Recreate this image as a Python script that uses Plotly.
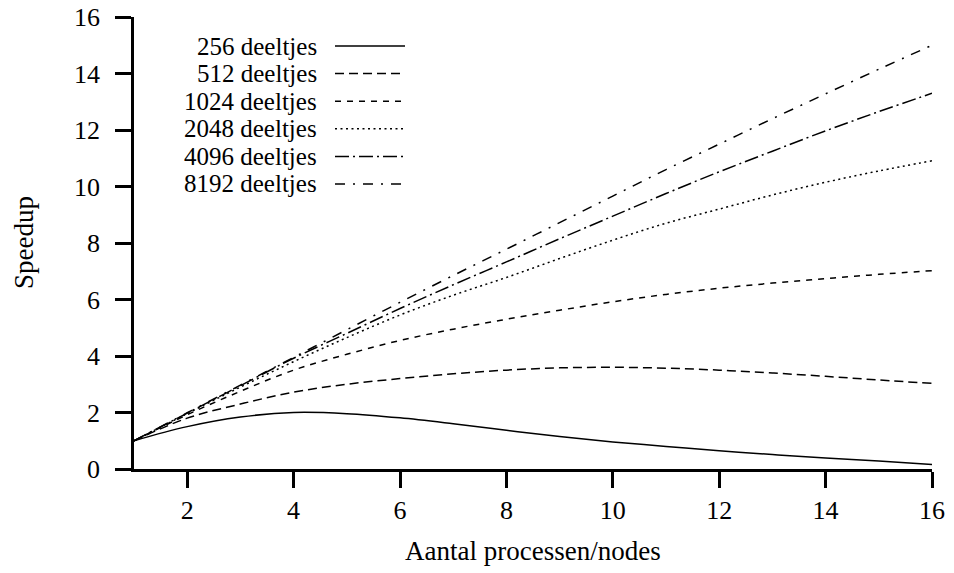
import plotly.graph_objects as go

# ---- data ----
processes = [1, 2, 3, 4, 5, 6, 7, 8, 9, 10, 11, 12, 13, 14, 15, 16]
series_names = ["256 deeltjes", "512 deeltjes", "1024 deeltjes",
                "2048 deeltjes", "4096 deeltjes", "8192 deeltjes"]
speedup_256 = [1.0, 1.5, 1.84, 2.0, 1.96, 1.81, 1.6, 1.37, 1.15, 0.96, 0.8, 0.65, 0.51, 0.39, 0.28, 0.16]
speedup_512 = [1.0, 1.8, 2.3, 2.72, 3.0, 3.2, 3.37, 3.5, 3.58, 3.6, 3.57, 3.5, 3.4, 3.28, 3.15, 3.03]
speedup_1024 = [1.0, 1.92, 2.75, 3.5, 4.06, 4.55, 4.95, 5.3, 5.62, 5.92, 6.18, 6.4, 6.58, 6.74, 6.89, 7.02]
speedup_2048 = [1.0, 1.96, 2.9, 3.8, 4.65, 5.45, 6.15, 6.78, 7.45, 8.1, 8.7, 9.2, 9.7, 10.15, 10.55, 10.91]
speedup_4096 = [1.0, 1.98, 2.95, 3.92, 4.8, 5.68, 6.52, 7.33, 8.15, 8.95, 9.75, 10.52, 11.25, 11.97, 12.65, 13.3]
speedup_8192 = [1.0, 1.99, 2.97, 3.95, 4.93, 5.9, 6.85, 7.78, 8.72, 9.66, 10.6, 11.5, 12.4, 13.28, 14.15, 15.0]
all_series = [speedup_256, speedup_512, speedup_1024, speedup_2048, speedup_4096, speedup_8192]

x_ticks = [2, 4, 6, 8, 10, 12, 14, 16]
y_ticks = [0, 2, 4, 6, 8, 10, 12, 14, 16]

# ---- styling ----
FONT = "Liberation Serif"
FS = 27      # axis titles
LFS = 25     # key text
TFS = 26     # tick labels
dashes = ["solid", "9px,5px", "6px,6px", "2px,3.5px", "14px,4px,2px,4px", "10px,8px,2px,8px"]

W, H = 954, 573
L, R, T, B = 134, 22, 17, 104
pw, ph = W - L - R, H - T - B

def px2paper_x(px):
    return (px - L) / pw

def px2paper_y(py):
    return (H - B - py) / ph

fig = go.Figure()
for name, ys, d in zip(series_names, all_series, dashes):
    fig.add_trace(go.Scatter(
        x=processes, y=ys, mode="lines", name=name,
        line=dict(color="black", width=1.5, dash=d, shape="spline", smoothing=1.0),
        showlegend=False,
    ))

# custom gnuplot-style key: right-aligned text, sample line to the right
row_y = [46, 73.6, 101.2, 128.8, 156.4, 184]
for name, d, ry in zip(series_names, dashes, row_y):
    fig.add_annotation(
        x=px2paper_x(319), y=px2paper_y(ry), xref="paper", yref="paper",
        text=name, showarrow=False, xanchor="right", yanchor="middle",
        font=dict(family=FONT, size=LFS, color="black"),
    )
    fig.add_shape(
        type="line", xref="paper", yref="paper",
        x0=px2paper_x(335), x1=px2paper_x(405),
        y0=px2paper_y(ry), y1=px2paper_y(ry),
        line=dict(color="black", width=1.5, dash=d),
    )

# axis titles
fig.add_annotation(
    x=px2paper_x(533), y=px2paper_y(551), xref="paper", yref="paper",
    text="Aantal processen/nodes", showarrow=False,
    xanchor="center", yanchor="middle",
    font=dict(family=FONT, size=FS, color="black"),
)
fig.add_annotation(
    x=px2paper_x(24), y=px2paper_y(243), xref="paper", yref="paper",
    text="Speedup", showarrow=False, textangle=-90,
    xanchor="center", yanchor="middle",
    font=dict(family=FONT, size=FS, color="black"),
)

axis_common = dict(
    showgrid=False, zeroline=False, showline=True, linecolor="black", linewidth=2.5,
    ticks="outside", ticklen=16, tickwidth=2.5, tickcolor="black",
    tickfont=dict(family=FONT, size=TFS, color="black"),
    mirror=False,
)
fig.update_xaxes(range=[1, 16], tickvals=x_ticks, ticktext=[str(v) for v in x_ticks],
                 ticklabelstandoff=0, **axis_common)
fig.update_yaxes(range=[0, 16], tickvals=y_ticks, ticktext=[str(v) for v in y_ticks],
                 ticklabelstandoff=10, **axis_common)

fig.update_layout(
    width=W, height=H,
    margin=dict(l=L, r=R, t=T, b=B, autoexpand=False),
    paper_bgcolor="white", plot_bgcolor="white",
    font=dict(family=FONT, size=FS, color="black"),
)

fig.write_html("out.html")
